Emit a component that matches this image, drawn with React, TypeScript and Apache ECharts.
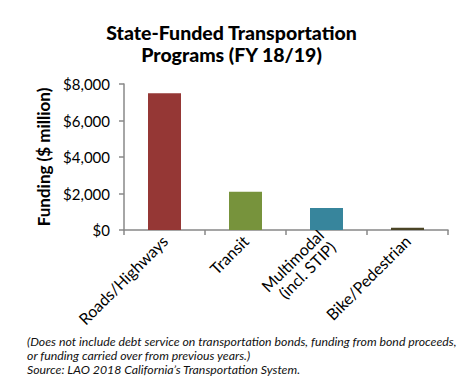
import React, { useEffect, useRef } from "react";
import * as echarts from "echarts";

const categories = ["Roads/Highways", "Transit", "Multimodal\n(incl. STIP)", "Bike/Pedestrian"];
const values = [7500, 2090, 1200, 120];
const barColors = ["#953735", "#77933C", "#37859C", "#4B4526"];
const yTicks = [0, 2000, 4000, 6000, 8000];
const titleLines = ["State-Funded Transportation", "Programs (FY 18/19)"];
const footLines = [
  "(Does not include debt service on transportation bonds, funding from bond proceeds,",
  "or funding carried over from previous years.)",
  "Source: LAO 2018 California\u2019s Transportation System.",
];

export default function App() {
  const ref = useRef<HTMLDivElement>(null);
  useEffect(() => {
    if (!ref.current) return;
    const chart = echarts.init(ref.current, null, { renderer: "svg" });
    chart.setOption({
      animation: false,
      backgroundColor: "#ffffff",
      title: {
        text: titleLines.join("\n"),
        left: "center",
        top: 16,
        textStyle: {
          fontFamily: "Lato",
          fontWeight: 900,
          fontSize: 19.5,
          lineHeight: 22,
          color: "#000",
        },
      },
      grid: { left: 124, top: 84, width: 324, height: 146 },
      xAxis: {
        type: "category",
        data: categories,
        axisLine: { lineStyle: { color: "#888", width: 1.5 } },
        axisTick: { show: true, length: 5, lineStyle: { color: "#888", width: 1.5 } },
        axisLabel: {
          rotate: 45,
          interval: 0,
          margin: 8,
          fontFamily: "Lato",
          fontSize: 16,
          lineHeight: 17,
          color: "#000",
        },
      },
      yAxis: {
        type: "value",
        min: yTicks[0],
        max: yTicks[yTicks.length - 1],
        interval: 2000,
        name: "Funding ($ million)",
        nameLocation: "middle",
        nameGap: 66,
        nameTextStyle: { fontFamily: "Lato", fontWeight: "bold", fontSize: 17, color: "#000" },
        axisLine: { show: true, lineStyle: { color: "#888", width: 1.5 } },
        axisTick: { show: true, length: 5, lineStyle: { color: "#888", width: 1.5 } },
        splitLine: { show: false },
        axisLabel: {
          margin: 14,
          fontFamily: "Lato",
          fontSize: 15,
          color: "#000",
          formatter: (v: number) => "$" + v.toLocaleString("en-US"),
        },
      },
      series: [
        {
          type: "bar",
          barWidth: 33,
          data: values.map((v, i) => ({ value: v, itemStyle: { color: barColors[i] } })),
        },
      ],
      graphic: [
        {
          type: "text",
          left: 27,
          top: 335,
          style: {
            text: footLines.join("\n"),
            fontFamily: "Lato",
            fontStyle: "italic",
            fontSize: 12.3,
            lineHeight: 13.8,
            fill: "#111",
          },
        },
      ],
    });
    return () => chart.dispose();
  }, []);
  return (
    <div
      ref={ref}
      style={{ position: "fixed", left: 0, top: 0, width: 463, height: 385 }}
    />
  );
}
